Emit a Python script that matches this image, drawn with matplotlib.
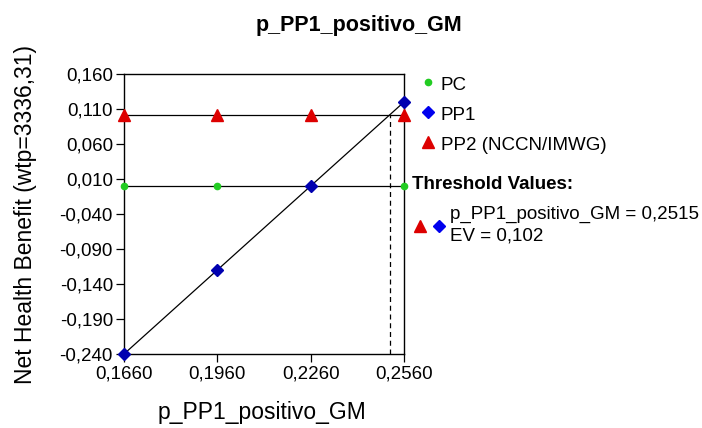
import matplotlib
matplotlib.use("Agg")
import matplotlib.pyplot as plt
from matplotlib.lines import Line2D

plt.rcParams['font.family'] = ['Liberation Sans', 'DejaVu Sans']

# data
x_vals = [0.166, 0.196, 0.226, 0.256]
pc_vals = [0.0, 0.0, 0.0, 0.0]
pp1_vals = [-0.240, -0.120, 0.0, 0.120]
pp2_vals = [0.102, 0.102, 0.102, 0.102]
threshold_x = 0.2515
threshold_ev = 0.102
x_ticks = [0.166, 0.196, 0.226, 0.256]
y_ticks = [-0.240, -0.190, -0.140, -0.090, -0.040, 0.010, 0.060, 0.110, 0.160]

GREEN = '#22cc22'
BLUE = '#0000b0'
RED = '#dd0000'

W, H = 702, 428
fig = plt.figure(figsize=(W / 100, H / 100), dpi=100)
ax = fig.add_axes([124 / W, 1 - 354 / H, 280 / W, 280 / H])

ax.plot(x_vals, pp2_vals, color='black', lw=0.9, zorder=2)
ax.plot(x_vals, pc_vals, color='black', lw=0.9, zorder=2)
ax.plot(x_vals, pp1_vals, color='black', lw=0.9, zorder=2)
ax.plot([threshold_x, threshold_x], [-0.240, threshold_ev], color='black',
        lw=0.9, ls=(0, (4, 3)), zorder=2)

ax.plot(x_vals, pc_vals, ls='none', marker='o', ms=4.5, color=GREEN,
        clip_on=False, zorder=3)
ax.plot(x_vals, pp2_vals, ls='none', marker='^', ms=9, color=RED,
        clip_on=False, zorder=3)
ax.plot(x_vals, pp1_vals, ls='none', marker='D', ms=6.5, color=BLUE,
        clip_on=False, zorder=4)

ax.set_xlim(0.166, 0.256)
ax.set_ylim(-0.240, 0.160)
ax.set_xticks(x_ticks)
ax.set_yticks(y_ticks)
ax.set_xticklabels([f'{v:.4f}'.replace('.', ',') for v in x_ticks])
ax.set_yticklabels([f'{v:.3f}'.replace('.', ',') for v in y_ticks])
ax.tick_params(direction='out', length=6, width=0.9, labelsize=13.5, pad=2)
for s in ax.spines.values():
    s.set_linewidth(1.0)

fig.text(262 / W, 1 - 412 / H, 'p_PP1_positivo_GM', fontsize=16.5,
         ha='center', va='center')
fig.text(26 / W, 1 - 214 / H, 'Net Health Benefit (wtp=3336,31)', rotation=90,
         fontsize=16.5, ha='center', va='center')
fig.text(359 / W, 1 - 25 / H, 'p_PP1_positivo_GM', fontsize=15.5,
         fontweight='bold', ha='center', va='center')

# legend drawn by hand
def fmark(x, y, **kw):
    fig.add_artist(Line2D([x / W], [1 - y / H], ls='none',
                          transform=fig.transFigure, **kw))

fmark(428, 82, marker='o', ms=4.5, color=GREEN)
fig.text(441 / W, 1 - 85 / H, 'PC', fontsize=13.5, va='center')
fmark(428, 112, marker='D', ms=6.5, color='#0000ee')
fig.text(441 / W, 1 - 115 / H, 'PP1', fontsize=13.5, va='center')
fmark(428, 142, marker='^', ms=9, color=RED)
fig.text(441 / W, 1 - 145 / H, 'PP2 (NCCN/IMWG)', fontsize=13.5, va='center')
fig.text(412 / W, 1 - 185 / H, 'Threshold Values:', fontsize=13.5,
         fontweight='bold', va='center')
fmark(420, 226, marker='^', ms=9, color=RED)
fmark(439, 226, marker='D', ms=6.5, color='#0000ee')
fig.text(450 / W, 1 - 214 / H,
         f'p_PP1_positivo_GM = {threshold_x:.4f}'.replace('.', ','),
         fontsize=13.5, va='center')
fig.text(450 / W, 1 - 236 / H,
         f'EV = {threshold_ev:.3f}'.replace('.', ','),
         fontsize=13.5, va='center')

fig.savefig('out.png', dpi=100, facecolor='white')
